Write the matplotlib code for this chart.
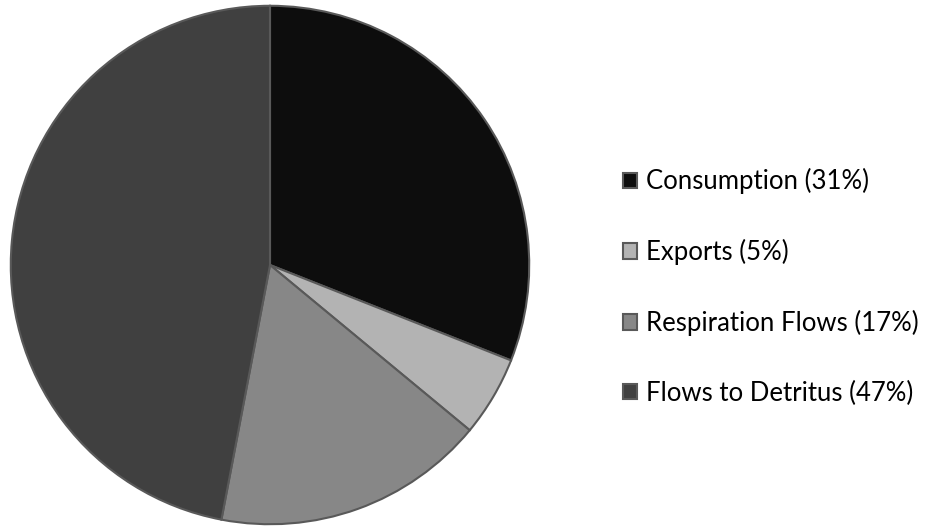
import matplotlib
matplotlib.use("Agg")
import matplotlib.pyplot as plt

labels = ["Consumption (31%)", "Exports (5%)", "Respiration Flows (17%)", "Flows to Detritus (47%)"]
values = [31, 5, 17, 47]
colors = ["#0d0d0d", "#b3b3b3", "#878787", "#404040"]

plt.rcParams["font.family"] = ["Lato", "DejaVu Sans"]

fig = plt.figure(figsize=(9.38, 5.27), dpi=100)
ax = fig.add_axes([10 / 938, 2 / 527, 520 / 938, 520 / 527])
wedges, _ = ax.pie(values, colors=colors, startangle=90, counterclock=False,
                   wedgeprops=dict(edgecolor="#595959", linewidth=1.5))
ax.set_xlim(-1.003, 1.003)
ax.set_ylim(-1.003, 1.003)
ax.set_aspect("equal")

leg = fig.legend(wedges, labels, loc="center left", bbox_to_anchor=(600 / 938, 240 / 527),
                 frameon=False, fontsize=18.5, handlelength=0.55, handleheight=0.55,
                 handletextpad=0.35, labelspacing=1.74)

fig.savefig("out.png", dpi=100)
